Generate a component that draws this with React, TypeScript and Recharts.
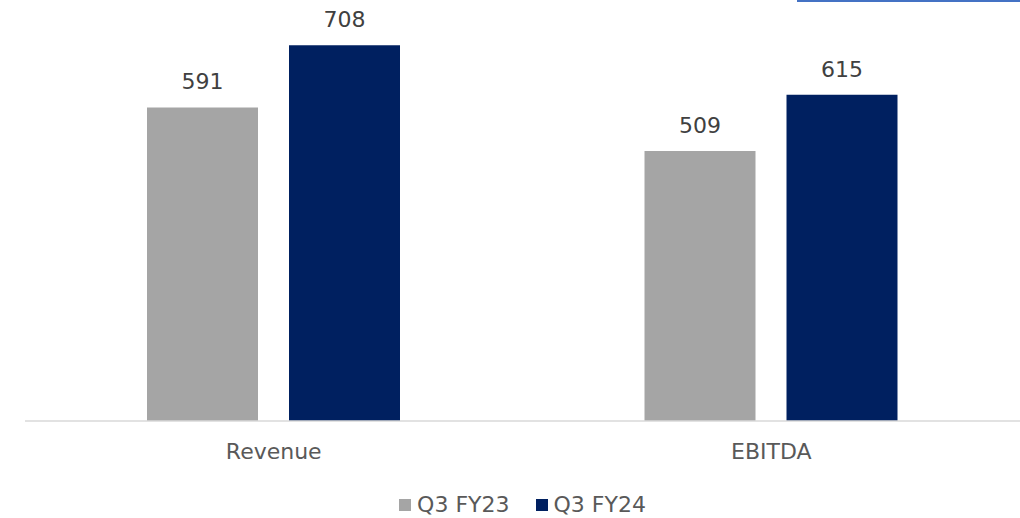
import React from "react";
import { Bar, BarChart, LabelList, Legend, XAxis, YAxis } from "recharts";

const categories = ["Revenue", "EBITDA"];
const fy23Values = [591, 509];
const fy24Values = [708, 615];
const seriesNames = ["Q3 FY23", "Q3 FY24"];

const data = categories.map((name, i) => ({
  name,
  fy23: fy23Values[i],
  fy24: fy24Values[i],
}));

const FONT = "'DejaVu Sans', sans-serif";
const GREY = "#A5A5A5";
const NAVY = "#002060";
const TEXT = "#595959";

function LegendContent() {
  const items = [
    { label: seriesNames[0], color: GREY },
    { label: seriesNames[1], color: NAVY },
  ];
  return (
    <div
      style={{
        height: 47,
        display: "flex",
        justifyContent: "center",
        alignItems: "flex-end",
        fontFamily: FONT,
        fontSize: 22,
        color: TEXT,
      }}
    >
      {items.map((it, i) => (
        <div
          key={it.label}
          style={{ display: "flex", alignItems: "center", marginLeft: i ? 26 : 0, lineHeight: "26px" }}
        >
          <span style={{ width: 12, height: 12, background: it.color, marginRight: 6, display: "inline-block" }} />
          <span>{it.label}</span>
        </div>
      ))}
    </div>
  );
}

export default function App() {
  return (
    <div
      style={{
        position: "fixed",
        left: 0,
        top: 0,
        width: 1020,
        height: 518,
        overflow: "hidden",
        background: "#fff",
      }}
    >
      <BarChart
        width={1020}
        height={518}
        data={data}
        margin={{ top: 23, right: 0, left: 25, bottom: 0 }}
        barCategoryGap="24.6%"
        barGap={31}
      >
        <XAxis
          dataKey="name"
          height={50}
          axisLine={{ stroke: "#D9D9D9", strokeWidth: 1.5 }}
          tickLine={false}
          tickMargin={16}
          tick={{ fill: TEXT, fontSize: 22, fontFamily: FONT }}
        />
        <YAxis hide domain={[0, 750]} />
        <Legend verticalAlign="bottom" content={<LegendContent />} />
        <Bar dataKey="fy23" name={seriesNames[0]} fill={GREY} barSize={111} isAnimationActive={false}>
          <LabelList dataKey="fy23" position="top" offset={18} fill="#404040" fontSize={22} fontFamily={FONT} />
        </Bar>
        <Bar dataKey="fy24" name={seriesNames[1]} fill={NAVY} barSize={111} isAnimationActive={false}>
          <LabelList dataKey="fy24" position="top" offset={18} fill="#404040" fontSize={22} fontFamily={FONT} />
        </Bar>
      </BarChart>
      <div
        style={{
          position: "absolute",
          left: 797,
          top: -98,
          width: 260,
          height: 100,
          border: "2px solid #4472C4",
          boxSizing: "border-box",
        }}
      />
    </div>
  );
}
